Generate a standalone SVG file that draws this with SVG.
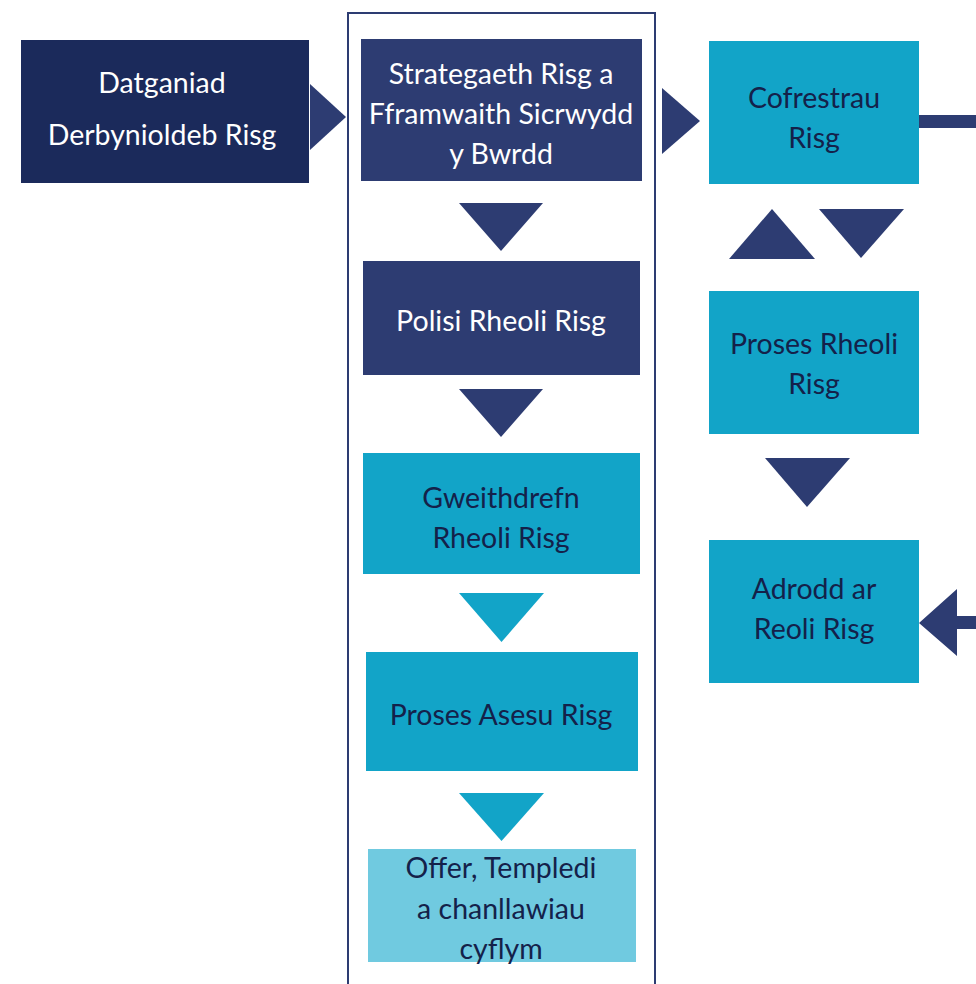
<svg xmlns="http://www.w3.org/2000/svg" width="976" height="984" viewBox="0 0 976 984">
<style>
.t{font-family:Lato,"Open Sans","Liberation Sans",sans-serif;font-size:28.5px;text-anchor:middle;dominant-baseline:central}
.w{fill:#ffffff}
.d{fill:#14214a}
.navy{fill:#2d3c72}
.cyan{fill:#12a4c8}
</style>
<rect width="976" height="984" fill="#ffffff"/>
<rect x="348" y="13" width="307" height="990" fill="none" stroke="#2d3c72" stroke-width="2"/>
<g id="connectors">
<polygon class="navy" points="310,84 346,117 310,150"/>
<polygon class="navy" points="662,88 700,121 662,154"/>
<rect class="navy" x="919" y="115" width="57" height="13"/>
<polygon class="navy" points="459,203 543,203 501,251"/>
<polygon class="navy" points="459,389 543,389 501,437"/>
<polygon class="cyan" points="459,593 544,593 501.5,642"/>
<polygon class="cyan" points="459,793 544,793 501.5,841"/>
<polygon class="navy" points="729,259 815,259 772,209"/>
<polygon class="navy" points="819,209 904,209 861,258"/>
<polygon class="navy" points="765,458 850,458 807,507"/>
<polygon class="navy" points="919,623 957,589 957,616 976,616 976,629 957,629 957,656"/>
</g>
<g id="datganiad">
<rect x="21" y="40" width="288" height="143" fill="#1b2a5b"/>
<text class="t w" x="162" y="82">Datganiad</text>
<text class="t w" x="162" y="134">Derbynioldeb Risg</text>
</g>
<g id="strategaeth">
<rect x="361" y="39" width="281" height="142" fill="#2d3c72"/>
<text class="t w" x="501" y="73">Strategaeth Risg a</text>
<text class="t w" x="501" y="113">Fframwaith Sicrwydd</text>
<text class="t w" x="501" y="153">y Bwrdd</text>
</g>
<g id="polisi">
<rect x="363" y="261" width="277" height="114" fill="#2d3c72"/>
<text class="t w" x="501" y="320">Polisi Rheoli Risg</text>
</g>
<g id="gweithdrefn">
<rect class="cyan" x="363" y="453" width="277" height="121"/>
<text class="t d" x="501" y="497">Gweithdrefn</text>
<text class="t d" x="501" y="537">Rheoli Risg</text>
</g>
<g id="asesu">
<rect class="cyan" x="366" y="652" width="272" height="119"/>
<text class="t d" x="501" y="714">Proses Asesu Risg</text>
</g>
<g id="offer">
<rect x="368" y="849" width="268" height="113" fill="#70cae0"/>
<text class="t d" x="501" y="867">Offer, Templedi</text>
<text class="t d" x="501" y="908">a chanllawiau</text>
<text class="t d" x="501" y="948">cyflym</text>
</g>
<g id="cofrestrau">
<rect class="cyan" x="709" y="41" width="210" height="143"/>
<text class="t d" x="814" y="97">Cofrestrau</text>
<text class="t d" x="814" y="137">Risg</text>
</g>
<g id="proses-rheoli">
<rect class="cyan" x="709" y="291" width="210" height="143"/>
<text class="t d" x="814" y="343">Proses Rheoli</text>
<text class="t d" x="814" y="383">Risg</text>
</g>
<g id="adrodd">
<rect class="cyan" x="709" y="540" width="210" height="143"/>
<text class="t d" x="814" y="588">Adrodd ar</text>
<text class="t d" x="814" y="628">Reoli Risg</text>
</g>
</svg>
